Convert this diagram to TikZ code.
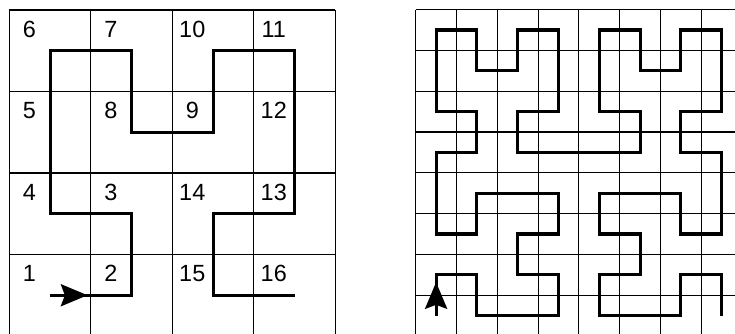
\documentclass[tikz,border=0pt]{standalone}
\usepackage{fontspec}
\setmainfont{Liberation Sans}
\usetikzlibrary{arrows.meta}
\begin{document}
\begin{tikzpicture}[x=0.03cm, y=0.03cm,
  gridline/.style={black, line width=0.9pt},
  curve/.style={black, line width=2.6pt, line join=miter},
  head/.style={-{Stealth[length=0.8cm, width=0.66cm, inset=0.12cm]}},
  num/.style={font=\fontsize{20}{20}\selectfont, inner sep=0pt}]
  \useasboundingbox (0,0) rectangle (735,333);
  \clip (0,0) rectangle (735,333);
  \begin{scope}[shift={(9.3,-3)}, scale=81.5]
    \foreach \k in {0,...,4} {
      \draw[gridline] (\k,0) -- (\k,4);
      \draw[gridline] (0,\k) -- (4,\k);
    }
    \foreach \n/\i/\j in {1/0/0, 2/1/0, 3/1/1, 4/0/1, 5/0/2, 6/0/3, 7/1/3, 8/1/2,
                          9/2/2, 10/2/3, 11/3/3, 12/3/2, 13/3/1, 14/2/1, 15/2/0, 16/3/0}
      \node[num] (n\n) at (\i+.245,\j+.767) {\n};
    \begin{scope}[shift={(.5,.5)}]
      \draw[curve] (0,0) -- (1,0) -- (1,1) -- (0,1) -- (0,3) -- (1,3) -- (1,2) -- (2,2)
        -- (2,3) -- (3,3) -- (3,1) -- (2,1) -- (2,0) -- (3,0);
      \draw[curve, head] (0,0) -- (.46,0);
    \end{scope}
  \end{scope}
  \begin{scope}[shift={(415.7,-3)}, scale=40.8]
    \foreach \k in {0,...,8} {
      \draw[gridline] (\k,0) -- (\k,8);
      \draw[gridline] (0,\k) -- (8,\k);
    }
    \begin{scope}[shift={(.5,.5)}]
      \draw[curve] (0,0) -- (0,1) -- (1,1) -- (1,0) -- (3,0) -- (3,1) -- (2,1) -- (2,2)
        -- (3,2) -- (3,3) -- (1,3) -- (1,2) -- (0,2) -- (0,4) -- (1,4) -- (1,5) -- (0,5)
        -- (0,7) -- (1,7) -- (1,6) -- (2,6) -- (2,7) -- (3,7) -- (3,5) -- (2,5) -- (2,4)
        -- (5,4) -- (5,5) -- (4,5) -- (4,7) -- (5,7) -- (5,6) -- (6,6) -- (6,7) -- (7,7)
        -- (7,5) -- (6,5) -- (6,4) -- (7,4) -- (7,2) -- (6,2) -- (6,3) -- (4,3) -- (4,2)
        -- (5,2) -- (5,1) -- (4,1) -- (4,0) -- (6,0) -- (6,1) -- (7,1) -- (7,0);
      \draw[curve, head] (0,0) -- (0,.82);
    \end{scope}
  \end{scope}
\end{tikzpicture}
\end{document}
